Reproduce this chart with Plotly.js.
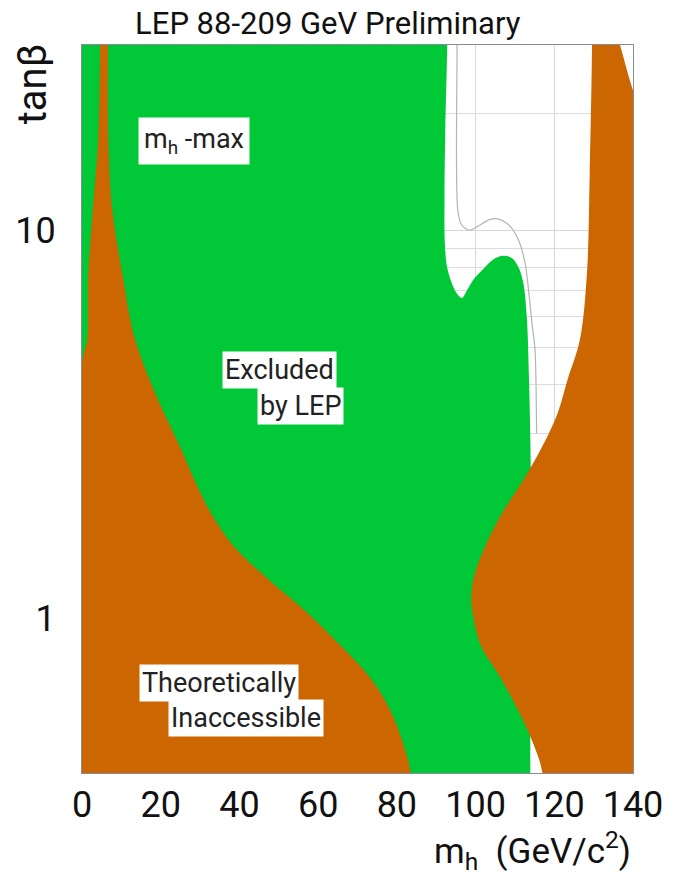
<!DOCTYPE html>
<html>
<head>
<meta charset="utf-8">
<script src="https://cdn.plot.ly/plotly-3.0.1.min.js"></script>
<style>html,body{margin:0;padding:0;background:#fff;}#chart{width:673px;height:884px;}</style>
</head>
<body>
<div id="chart"></div>
<script>
// ---- data (m_h in GeV/c^2, tan beta); boundary points ----
const excludedX = [-3, 92.9, 92.8, 92.3, 92.1, 92.2, 92.8, 93.9, 95.2, 96.5, 97.8, 99.4, 102.0, 104.5, 107.0, 109.2, 110.9, 112.1, 113.0, 113.6, 114.0, 114.1, 114.0, 113.9, 113.9, -3];
const excludedY = [45, 45, 30, 18, 12, 9.2, 8.0, 7.33, 6.88, 6.69, 7.0, 7.45, 7.96, 8.41, 8.59, 8.48, 8.03, 7.33, 6.0, 4.05, 2.53, 1.5, 0.8, 0.4, 0.3, 0.3];

const theoLeftX = [-3, -3, -1, 0, 0.6, 1.3, 1.6, 2.8, 4.1, 4.6, 4.7, 6.6, 6.6, 6.7, 7.6, 10.2, 13.5, 19.3, 24.8, 28.5, 32.6, 38.4, 47.0, 57.0, 65.6, 73.3, 78.4, 81.7, 83.5, 84.2];
const theoLeftY = [0.3, 4.0, 4.3, 4.6, 4.9, 5.22, 7.76, 11.5, 17, 30, 45, 45, 30, 17, 11.5, 7.76, 5.22, 3.66, 2.78, 2.28, 1.88, 1.54, 1.27, 1.04, 0.853, 0.702, 0.578, 0.472, 0.4, 0.3];

const theoRightX = [143, 117.6, 117.0, 114.8, 110.9, 106.4, 101.3, 99.2, 98.9, 99.5, 102.5, 106.9, 112.2, 117.0, 120.9, 123.4, 126.5, 128.3, 129.0, 129.6, 129.7, 131.7, 136.7, 140, 143];
const theoRightY = [0.3, 0.3, 0.4, 0.472, 0.578, 0.702, 0.853, 1.04, 1.13, 1.27, 1.54, 1.88, 2.28, 2.78, 3.39, 4.13, 5.22, 7.76, 14.0, 30, 45, 45, 30, 22.9, 19];

const expectedX = [95.3, 95.3, 95.5, 96.5, 98.5, 101.0, 103.5, 105.7, 108.3, 110.8, 112.6, 113.6, 114.3, 115.1, 115.5];
const expectedY = [45, 30, 11.2, 10.3, 10.0, 10.3, 10.65, 10.7, 10.35, 9.5, 8.2, 6.8, 5.8, 4.93, 3.0];

const xTickVals = [0, 20, 40, 60, 80, 100, 120, 140];
const xMinorTicks = [5,10,15,25,30,35,45,50,55,65,70,75,85,90,95,105,110,115,125,130,135];
const yTickVals = [1, 10];
const yTickText = ['1', '10'];
const yMinorVals = [0.4,0.5,0.6,0.7,0.8,0.9,2,3,4,5,6,7,8,9,20,30];

const GREEN = '#00c837';
const ORANGE = '#cc6600';
const FONT = "Roboto, 'Liberation Sans', sans-serif";

function region(x, y, color) {
  return {x: x, y: y, type: 'scatter', mode: 'lines', fill: 'toself', fillcolor: color,
          line: {width: 0, color: color, shape: 'spline', smoothing: 1}, hoverinfo: 'skip', showlegend: false};
}

const traces = [
  {x: expectedX, y: expectedY, type: 'scatter', mode: 'lines', line: {color: '#b4b4b4', width: 1.2, shape: 'spline', smoothing: 0.8}, hoverinfo: 'skip', showlegend: false},
  region(excludedX, excludedY, GREEN),
  region(theoLeftX, theoLeftY, ORANGE),
  region(theoRightX, theoRightY, ORANGE)
];

const box = {bgcolor: '#ffffff', borderpad: 2, showarrow: false, xref: 'paper', yref: 'paper', font: {family: FONT, size: 27, color: '#222'}};

const layout = {
  width: 673, height: 884,
  margin: {l: 82, r: 40, t: 45, b: 111},
  paper_bgcolor: '#ffffff', plot_bgcolor: '#ffffff',
  title: {text: 'LEP 88-209 GeV Preliminary', x: 0.487, xref: 'container', xanchor: 'center', y: 0.974, yref: 'container', yanchor: 'middle', font: {family: FONT, size: 31, color: '#111'}},
  xaxis: {
    range: [0, 140], tickvals: xTickVals, ticks: '', showgrid: true, gridcolor: '#d6d6e4', gridwidth: 1,
    zeroline: false, showline: true, linecolor: '#8a8a98', linewidth: 1, mirror: true,
    tickfont: {family: FONT, size: 36, color: '#111'}, ticklabelstandoff: 0
  },
  xaxis2: {
    range: [0, 140], overlaying: 'x', side: 'top', anchor: 'y', showticklabels: false, showgrid: false, zeroline: false,
    tickvals: xMinorTicks, ticks: 'inside', ticklen: 6, tickcolor: '#9a9aae', tickwidth: 1, layer: 'below traces'
  },
  yaxis: {
    type: 'log', range: [Math.log10(0.4), Math.log10(30)], tickvals: yTickVals, ticktext: yTickText, ticks: '',
    showgrid: true, gridcolor: '#d6d6e4', zeroline: false, showline: true, linecolor: '#8a8a98', mirror: true,
    minor: {tickvals: yMinorVals, showgrid: true, gridcolor: '#dcdce8', ticks: ''},
    tickfont: {family: FONT, size: 36, color: '#111'}, ticklabelstandoff: 18
  },
  annotations: [
    Object.assign({}, box, {text: 'm<sub>h</sub> -max', x: 0.204, y: 0.868, xanchor: 'center', yanchor: 'middle', borderpad: 5}),
    Object.assign({}, box, {text: 'Excluded', x: 0.358, y: 0.554, xanchor: 'center', yanchor: 'middle'}),
    Object.assign({}, box, {text: 'by LEP', x: 0.396, y: 0.504, xanchor: 'center', yanchor: 'middle'}),
    Object.assign({}, box, {text: 'Theoretically', x: 0.2495, y: 0.124, xanchor: 'center', yanchor: 'middle'}),
    Object.assign({}, box, {text: 'Inaccessible', x: 0.2985, y: 0.075, xanchor: 'center', yanchor: 'middle'}),
    {text: 'm<sub>h</sub>  (GeV/c<sup>2</sup>)', xref: 'paper', yref: 'paper', x: 1.0, y: -0.106, xanchor: 'right', yanchor: 'middle', showarrow: false, font: {family: FONT, size: 35, color: '#111'}},
    {text: 'tanβ', xref: 'paper', yref: 'paper', x: -0.09, y: 1.005, xanchor: 'center', yanchor: 'top', textangle: -90, showarrow: false, font: {family: FONT, size: 40, color: '#111'}}
  ]
};

Plotly.newPlot('chart', traces, layout, {displayModeBar: false, staticPlot: true});
</script>
</body>
</html>
